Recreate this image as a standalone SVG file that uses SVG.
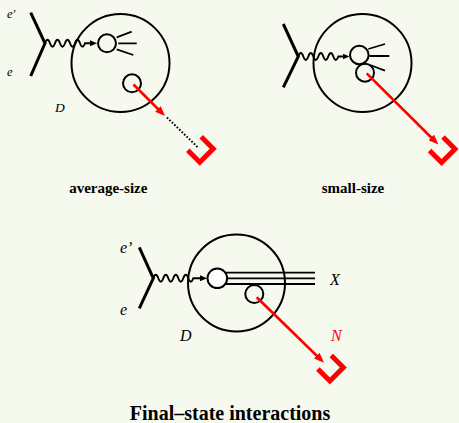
<svg xmlns="http://www.w3.org/2000/svg" width="459" height="423" viewBox="0 0 459 423">
<style>
.bg{fill:#f6f9ee}
.leg{stroke:#000;stroke-width:3;fill:none;stroke-linejoin:miter}
.wave{stroke:#000;stroke-width:1.9;fill:none}
.ring{stroke:#000;stroke-width:2;fill:none}
.thin{stroke:#000;stroke-width:1.8;fill:none}
.red{stroke:#ff0000;stroke-width:2.6;fill:none}
.brk{stroke:#ff0000;stroke-width:5;fill:none;stroke-linejoin:miter;stroke-linecap:butt}
.dot{stroke:#000;stroke-width:2;stroke-dasharray:1.6 1.8;fill:none}
.it{font-family:"Liberation Serif",serif;font-style:italic}
.bd{font-family:"Liberation Serif",serif;font-weight:bold;text-anchor:middle}
</style>
<defs>
<marker id="ab" markerWidth="7" markerHeight="6" refX="3" refY="3" orient="auto" markerUnits="userSpaceOnUse"><path d="M0,0 L7,3 L0,6 z" fill="#000"/></marker>
<marker id="ar" markerWidth="10" markerHeight="8" refX="5" refY="4" orient="auto" markerUnits="userSpaceOnUse"><path d="M0,0 L10,4 L0,8 z" fill="#ff0000"/></marker>
<path id="u" d="M0,0 L0,17 L19,17 L19,0"/>
</defs>
<rect class="bg" x="0" y="0" width="459" height="423"/>

<g id="panel1">
  <g id="p1-vertex"><path class="leg" d="M30.7,12.7 L45,43.3 L30.7,76"/></g>
  <g id="p1-nucleus"><circle class="ring" cx="120.5" cy="63" r="49"/></g>
  <g id="p1-struck"><circle class="ring" cx="107" cy="43.3" r="9"/>
    <path class="thin" d="M116.7,37.3 L131.7,31.7 M118.3,43.3 L136.7,43.3 M116.7,49.3 L133.3,55"/></g>
  <g id="p1-spectator"><circle class="ring" cx="132" cy="83.3" r="9"/></g>
  <g id="p1-detector"><use href="#u" class="brk" transform="translate(200.5,149.5) rotate(-45) translate(-9.5,-8.5)"/></g>
  <text class="it" x="7" y="18" font-size="12.5">e'</text>
  <text class="it" x="7" y="75.5" font-size="12.5">e</text>
  <text class="it" x="55" y="111.7" font-size="13.5">D</text>
  <text class="bd" x="108.3" y="192.5" font-size="15">average-size</text>
</g>

<g id="panel2">
  <g id="p2-vertex"><path class="leg" d="M283.3,24 L298.3,56.5 L283.3,87.3"/></g>
  <g id="p2-nucleus"><circle class="ring" cx="362.5" cy="63" r="49"/></g>
  <g id="p2-struck"><circle class="ring" cx="359.3" cy="55" r="9.3"/>
    <path class="thin" d="M368.3,49 L385,44 M369.3,56 L389.3,56 M370,65 L385,70.7"/></g>
  <g id="p2-spectator"><circle class="ring" cx="365" cy="72.7" r="9"/></g>
  <g id="p2-detector"><use href="#u" class="brk" transform="translate(442.3,149.8) rotate(-45) translate(-9.5,-8.5)"/></g>
  <text class="bd" x="353" y="192.5" font-size="15">small-size</text>
</g>

<g id="panel3">
  <g id="p3-vertex"><path class="leg" d="M139.3,247.3 L153.3,278.3 L139.3,308.3"/></g>
  <g id="p3-nucleus"><circle class="ring" cx="236.5" cy="283" r="48.5"/></g>
  <g id="p3-jet"><path class="thin" d="M218,272.6 L315,272.6 M218,278.3 L315,278.3 M218,284 L315,284"/>
    <circle cx="217.3" cy="278.3" r="9.8" fill="#fff" stroke="#000" stroke-width="2"/></g>
  <g id="p3-spectator"><circle class="ring" cx="254.3" cy="294" r="9"/></g>
  <g id="p3-detector"><use href="#u" class="brk" transform="translate(330.6,368.3) rotate(-45) translate(-9.5,-8.5)"/></g>
  <text class="it" x="120" y="253" font-size="16">e’</text>
  <text class="it" x="120" y="315" font-size="16">e</text>
  <text class="it" x="180" y="340.5" font-size="16">D</text>
  <text class="it" x="330" y="285" font-size="16">X</text>
  <text class="it" x="331" y="341" font-size="16" fill="#ff0000">N</text>
  <text class="bd" x="230" y="420" font-size="20">Final–state interactions</text>
</g>

<g id="connectors">
  <path class="wave" marker-end="url(#ab)" d="M45,43.3 q2.5,-7 5,0 q2.5,7 5,0 q2.5,-7 5,0 q2.5,7 5,0 q2.5,-7 5,0 q2.5,7 5,0 q2.5,-7 5,0 q2.5,7 5,0 L93,43.3"/>
  <path class="red" marker-end="url(#ar)" d="M133.5,84.5 L161.5,112.5"/>
  <path class="dot" d="M167,117.5 L198,147.5"/>
  <path class="wave" marker-end="url(#ab)" d="M298.3,56.5 q2.5,-7 5,0 q2.5,7 5,0 q2.5,-7 5,0 q2.5,7 5,0 q2.5,-7 5,0 q2.5,7 5,0 q2.5,-7 5,0 q2.5,7 5,0 L345.5,56.5"/>
  <path class="red" marker-end="url(#ar)" d="M366.7,73.3 L434.8,141"/>
  <path class="wave" marker-end="url(#ab)" d="M153.3,278.3 q2.5,-7 5,0 q2.5,7 5,0 q2.5,-7 5,0 q2.5,7 5,0 q2.5,-7 5,0 q2.5,7 5,0 q2.5,-7 5,0 q2.5,7 5,0 L203,278.3"/>
  <path class="red" marker-end="url(#ar)" d="M256.7,297.3 L320.4,359.2"/>
</g>
</svg>
